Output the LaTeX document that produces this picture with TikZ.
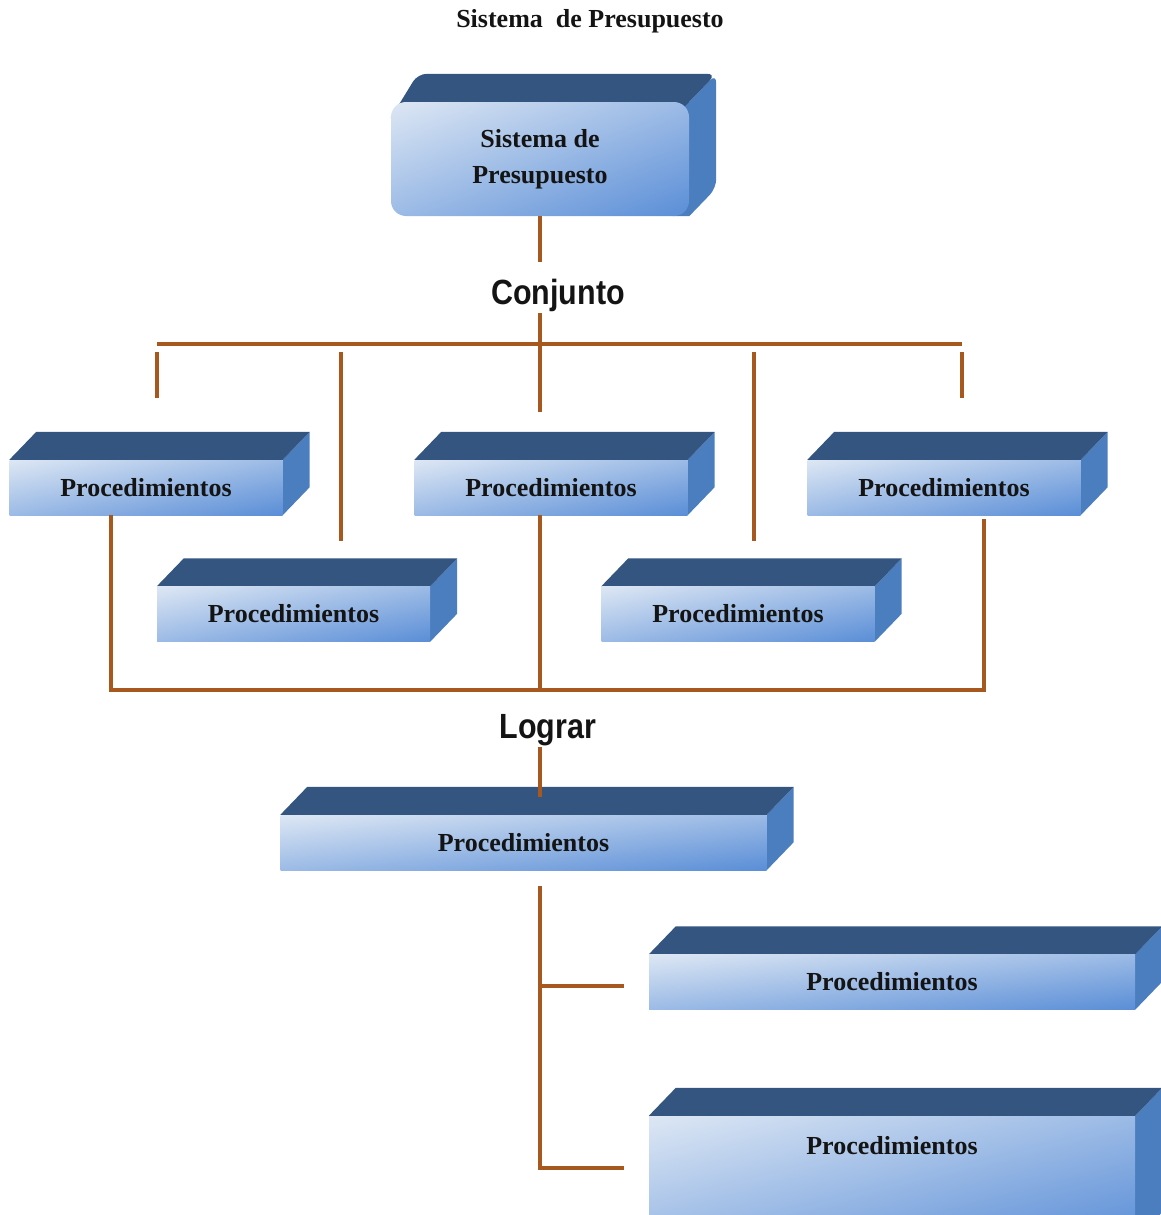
\documentclass[tikz,border=0pt]{standalone}
\usepackage{fontspec}
\setmainfont{Liberation Serif}
\newfontfamily\headfont[FakeStretch=0.87]{Liberation Sans}
\pgfdeclarelayer{sides}
\pgfsetlayers{sides,main}
\definecolor{topface}{HTML}{34557F}
\definecolor{sideface}{HTML}{4A7EBE}
\definecolor{wire}{HTML}{A6581E}
\definecolor{ink}{HTML}{141414}

% diagonal gradient of the front faces: pale at upper left, blue at lower right
\pgfdeclarefunctionalshading{slab}{\pgfpoint{-50bp}{-50bp}}{\pgfpoint{50bp}{50bp}}{}{
  sub 100 div 0.5 add
  dup 0 lt {pop 0} if
  dup 1 gt {pop 1} if
  dup dup
  -0.114 mul 0.957 add
  3 1 roll
  -0.349 mul 0.906 add
  exch
  -0.514 mul 0.867 add
  3 1 roll exch
}

% top and right faces of a slab, drawn behind its front face
\newcommand\slabsides[1]{%
  \begin{pgfonlayer}{sides}
    \fill[sideface] (#1.north east) -- ([shift={(27,-28)}]#1.north east)
      -- ([shift={(27,-28)}]#1.south east) -- (#1.south east) -- cycle;
    \fill[topface] (#1.north west) -- ([shift={(27,-28)}]#1.north west)
      -- ([shift={(27,-28)}]#1.north east) -- (#1.north east) -- cycle;
  \end{pgfonlayer}}

\begin{document}
\begin{tikzpicture}[x=1pt,y=-1pt,
  front/.style={inner sep=0pt, shade, shading=slab, text=ink, align=center,
    font=\bfseries\fontsize{26}{37}\selectfont},
  proc/.style={front, minimum width=273pt, minimum height=55pt},
  longproc/.style={front, minimum width=486pt, minimum height=55pt},
  cue/.style={inner sep=0pt, text=ink, font=\headfont\bfseries\fontsize{35}{40}\selectfont},
  wirestyle/.style={draw=wire, line width=3.6pt, line join=miter}
]
\useasboundingbox (0,0) rectangle (1160,1215);
\clip (0,0) rectangle (1160,1215);

% title
\node[inner sep=0pt, text=ink, font=\bfseries\fontsize{26}{30}\selectfont] (title) at (590,21) {Sistema\ \ de Presupuesto};

% rounded top slab
\node[front, rounded corners=15pt, minimum width=298pt, minimum height=114pt] (S) at (540,159) {Sistema de\\[-1pt]Presupuesto};
\begin{pgfonlayer}{sides}
  \fill[sideface] ([xshift=-16pt]S.north east) -- (S.north east)
    [rounded corners=9pt] -- ([shift={(27,-28)}]S.north east)
    -- ([shift={(27,-28)}]S.south east) [sharp corners] -- (S.south east)
    -- ([xshift=-16pt]S.south east) -- cycle;
  \fill[topface] ([shift={(0,16)}]S.north west)
    [rounded corners=9pt] -- ([shift={(27,-28)}]S.north west)
    -- ([shift={(27,-28)}]S.north east) [sharp corners] -- (S.north east)
    -- ([shift={(-16,16)}]S.north east) -- cycle;
\end{pgfonlayer}

% square slabs
\node[proc] (A) at (146,487.5) {Procedimientos};
\node[proc] (B) at (551,487.5) {Procedimientos};
\node[proc] (C) at (944,487.5) {Procedimientos};
\node[proc] (D) at (293.5,614) {Procedimientos};
\node[proc] (E) at (738,614) {Procedimientos};
\node[longproc] (F) at (523.5,842.5) {Procedimientos};
\node[longproc] (G) at (892,982) {Procedimientos};
\node[longproc, minimum height=124pt, text height=38pt, text depth=86pt] (H) at (892,1178) {Procedimientos};
\foreach \n in {A,B,C,D,E,F,G,H}{\slabsides{\n}}

% linking words
\node[cue] (conj) at (558,295) {Conjunto};
\node[cue] (lograr) at (548,730) {Lograr};

% junction points
\coordinate (j0) at (540,262);
\coordinate (j1) at (540,313);
\coordinate (j2) at (540,412);
\coordinate (busL) at (157,344);
\coordinate (busR) at (962,344);
\coordinate (dA) at (157,352);  \coordinate (dA2) at (157,398);
\coordinate (dD) at (341,352);  \coordinate (dD2) at (341,541);
\coordinate (dE) at (754,352);  \coordinate (dE2) at (754,541);
\coordinate (dC) at (962,352);  \coordinate (dC2) at (962,398);
\coordinate (uA) at (111,515);
\coordinate (uB) at (540,515);
\coordinate (uC) at (984,519);
\coordinate (lowL) at (111,690);
\coordinate (lowM) at (540,690);
\coordinate (lowR) at (984,690);
\coordinate (lg1) at (540,747);
\coordinate (lg2) at (540,797);
\coordinate (t0) at (540,886);
\coordinate (tG) at (540,986);
\coordinate (tG2) at (624,986);
\coordinate (tH) at (540,1168);
\coordinate (tH2) at (624,1168);

% connectors
\draw[wirestyle] (S.south) -- (j0);
\draw[wirestyle] (j1) -- (j2);
\draw[wirestyle] (busL) -- (busR);
\draw[wirestyle] (dA) -- (dA2);
\draw[wirestyle] (dD) -- (dD2);
\draw[wirestyle] (dE) -- (dE2);
\draw[wirestyle] (dC) -- (dC2);
\draw[wirestyle] (uA) -- (lowL) -- (lowR) -- (uC);
\draw[wirestyle] (uB) -- (lowM);
\draw[wirestyle] (lg1) -- (lg2);
\draw[wirestyle] (t0) -- (tH) -- (tH2);
\draw[wirestyle] (tG) -- (tG2);
\end{tikzpicture}
\end{document}
